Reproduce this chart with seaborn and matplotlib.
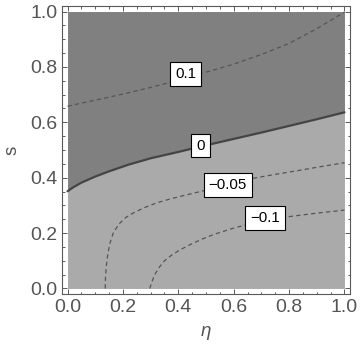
import numpy as np
import pandas as pd
import matplotlib.pyplot as plt
from matplotlib.ticker import MultipleLocator
import seaborn as sns

# contour curves (eta, s)
eta_p10 = [0.0, 0.1, 0.2, 0.3, 0.4, 0.5, 0.6, 0.7, 0.8, 0.9, 1.0]
s_p10 = [0.658, 0.68, 0.702, 0.726, 0.752, 0.781, 0.81, 0.845, 0.885, 0.938, 0.998]

eta_0 = [0.0, 0.02, 0.05, 0.1, 0.15, 0.22, 0.3, 0.4, 0.5, 0.6, 0.7, 0.8, 0.9, 1.0]
s_0 = [0.351, 0.365, 0.382, 0.404, 0.423, 0.447, 0.47, 0.493, 0.517, 0.54, 0.563, 0.587, 0.611, 0.636]

eta_m05 = [0.136, 0.137, 0.14, 0.145, 0.152, 0.165, 0.185, 0.21, 0.24, 0.28, 0.325, 0.37, 0.409,
           0.5, 0.58, 0.66, 0.75, 0.84, 0.92, 1.0]
s_m05 = [0.0, 0.04, 0.08, 0.12, 0.16, 0.2, 0.232, 0.256, 0.274, 0.293, 0.31, 0.323, 0.333,
         0.355, 0.376, 0.396, 0.412, 0.427, 0.441, 0.454]

eta_m10 = [0.297, 0.305, 0.315, 0.33, 0.35, 0.375, 0.409, 0.45, 0.49, 0.528, 0.59, 0.648, 0.715,
           0.781, 0.9, 1.0]
s_m10 = [0.0, 0.025, 0.05, 0.075, 0.1, 0.12, 0.141, 0.162, 0.18, 0.195, 0.215, 0.231, 0.245,
         0.257, 0.272, 0.283]

levels = ["0.1", "0", "\u22120.05", "\u22120.1"]
label_eta = [0.427, 0.48, 0.579, 0.713]
label_s = [0.774, 0.516, 0.374, 0.255]

sns.set_style("ticks")
plt.rcParams["font.family"] = ["Liberation Sans", "DejaVu Sans"]

fig = plt.figure(figsize=(3.6, 3.54), dpi=100)
ax = fig.add_axes([62 / 360, 1 - 294 / 354, 288 / 360, 288 / 354])

# shaded regions either side of the zero contour
ax.fill_between(eta_0, s_0, 1.0, color="#808080", lw=0)
ax.fill_between(eta_0, 0.0, s_0, color="#aaaaaa", lw=0)

curves = pd.DataFrame({
    "eta": eta_p10 + eta_0 + eta_m05 + eta_m10,
    "s": s_p10 + s_0 + s_m05 + s_m10,
    "level": ["0.1"] * len(eta_p10) + ["0"] * len(eta_0) + ["-0.05"] * len(eta_m05) + ["-0.1"] * len(eta_m10),
})

for lev, d in curves.groupby("level", sort=False):
    if lev == "0":
        sns.lineplot(data=d, x="eta", y="s", sort=False, estimator=None, color="#444444", lw=1.6, ax=ax)
    else:
        sns.lineplot(data=d, x="eta", y="s", sort=False, estimator=None, color="#555555", lw=0.9,
                     linestyle=(0, (3.4, 2.6)), ax=ax)

for txt, x, y in zip(levels, label_eta, label_s):
    ax.text(x, y, txt, ha="center", va="center", fontsize=10.8, color="black", zorder=5,
            bbox=dict(boxstyle="square,pad=0.32", fc="white", ec="black", lw=0.8))

ax.set_xlim(-0.02, 1.02)
ax.set_ylim(-0.02, 1.02)
ax.xaxis.set_major_locator(MultipleLocator(0.2))
ax.yaxis.set_major_locator(MultipleLocator(0.2))
ax.xaxis.set_minor_locator(MultipleLocator(0.05))
ax.yaxis.set_minor_locator(MultipleLocator(0.05))
ax.xaxis.set_major_formatter(lambda v, p: f"{v:.1f}")
ax.yaxis.set_major_formatter(lambda v, p: f"{v:.1f}")

frame = "#5a5a5a"
for sp in ax.spines.values():
    sp.set_color(frame)
    sp.set_linewidth(0.8)
ax.tick_params(which="both", direction="in", top=True, right=True, color=frame, width=0.7)
ax.tick_params(which="major", length=3.4, labelsize=14, labelcolor="#555555", pad=3.5)
ax.tick_params(which="minor", length=1.8)

ax.set_xlabel("\u03b7", fontsize=13.5, style="italic", color="#555555", labelpad=5)
ax.set_ylabel("s", fontsize=13.5, color="#555555", labelpad=7)

plt.savefig("out.png", dpi=100)
